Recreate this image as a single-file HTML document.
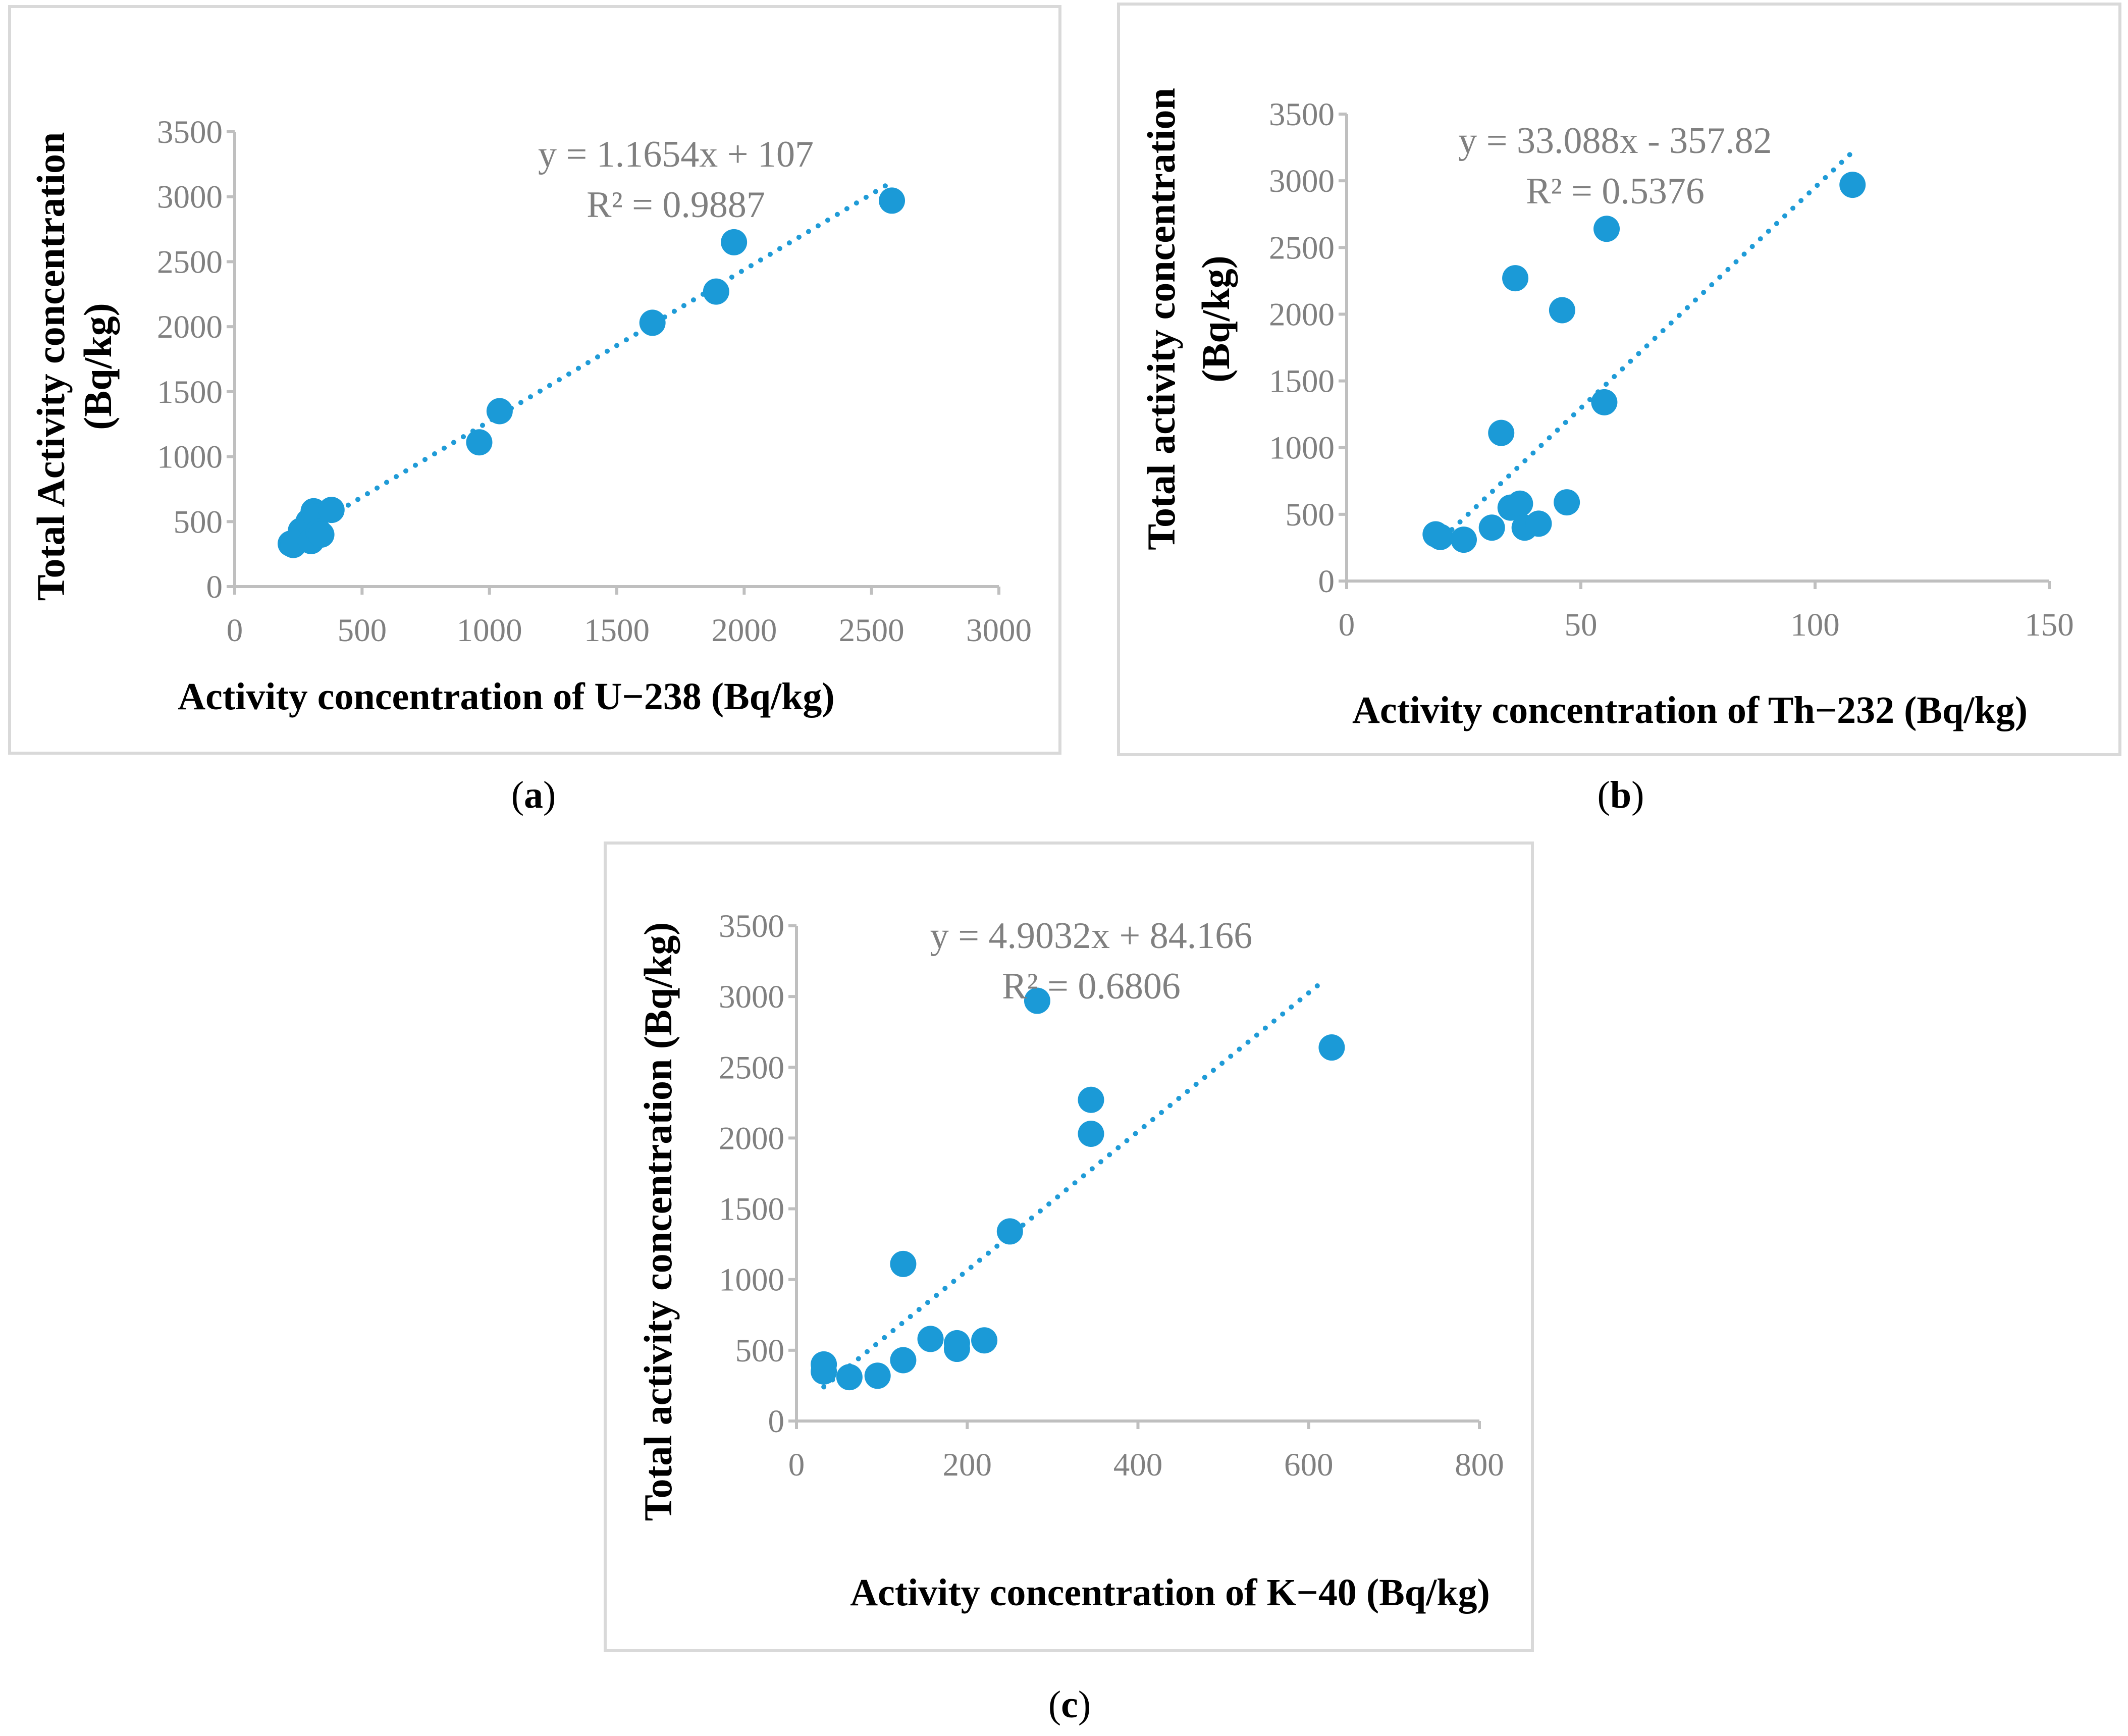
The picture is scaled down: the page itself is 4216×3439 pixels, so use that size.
<!DOCTYPE html>
<html><head><meta charset="utf-8"><style>
html,body{margin:0;padding:0;background:#fff;}
svg{display:block;font-family:"Liberation Serif",serif;}
</style></head><body>
<svg id="fig" width="4216" height="3439" viewBox="0 0 4216 3439" xmlns="http://www.w3.org/2000/svg"></svg>
<script>
// Panel (a) data
const aX = [220,230,260,290,300,310,320,330,340,380,960,1040,1640,1890,1960,2580];
const aY = [330,320,430,500,350,580,540,420,400,590,1110,1350,2030,2270,2650,2970];
const aXTicks = [0,500,1000,1500,2000,2500,3000];
// Panel (b) data
const bX = [19,20,25,31,33,35,36,37,38,41,46,47,55,55.5,108];
const bY = [350,330,310,400,1110,550,2270,580,400,430,2030,590,1340,2640,2970];
const bXTicks = [0,50,100,150];
// Panel (c) data
const cX = [32,32,62,95,125,125,157,188,188,220,250,282,345,345,627];
const cY = [400,350,310,320,430,1110,580,550,510,570,1340,2970,2270,2030,2640];
const cXTicks = [0,200,400,600,800];
const yTicks = [0,500,1000,1500,2000,2500,3000,3500];
const trendA = [1.1654,107], trendB = [33.088,-357.82], trendC = [4.9032,84.166];

const NS="http://www.w3.org/2000/svg";
const svg=document.getElementById('fig');
function mk(tag,attrs,parent){const e=document.createElementNS(NS,tag);for(const k in attrs)e.setAttribute(k,attrs[k]);(parent||svg).appendChild(e);return e;}
function txt(s,x,y,size,fill,weight,parent,rot){const t=mk('text',{x:x,y:y,'font-size':size,fill:fill,'text-anchor':'middle','font-weight':weight||'normal'},parent);if(rot)t.setAttribute('transform','rotate(-90 '+x+' '+y+')');t.textContent=s;return t;}

function panel(o){
  const g=mk('g',{});
  
  
  const fr=mk('rect',{x:o.box[0],y:o.box[1],width:o.box[2]-o.box[0],height:o.box[3]-o.box[1],fill:'none',stroke:'#d9d9d9','stroke-width':6},g);
  
  
  const xmax=o.xt[o.xt.length-1];
  const sx=v=>o.x0+(o.x1-o.x0)*v/xmax;
  const sy=v=>o.y0+(o.y1-o.y0)*v/3500;
  const ya=mk('line',{x1:o.x0,y1:o.y0,x2:o.x0,y2:o.y1,stroke:'#bfbfbf','stroke-width':6},g);
  
  
  const xa=mk('line',{x1:o.x0,y1:o.y0,x2:o.x1,y2:o.y0,stroke:'#bfbfbf','stroke-width':6},g);
  
  
  yTicks.forEach(v=>{
    const y=sy(v);
    mk('line',{x1:o.x0-16,y1:y,x2:o.x0,y2:y,stroke:'#bfbfbf','stroke-width':6},g);
    const t=txt(String(v),o.x0-24,y+22,65,'#808080','normal',g);
    t.setAttribute('text-anchor','end');
    
    
  });
  o.xt.forEach(v=>{
    const x=sx(v);
    mk('line',{x1:x,y1:o.y0,x2:x,y2:o.y0+16,stroke:'#bfbfbf','stroke-width':6},g);
    const t=txt(String(v),x,o.y0+108,65,'#808080','normal',g);
    
    
  });
  const xs=Math.min(...o.xs), xe=o.trendEnd;
  const tl=mk('line',{x1:sx(xs),y1:sy(o.tr[0]*xs+o.tr[1]),x2:sx(xe),y2:sy(o.tr[0]*xe+o.tr[1]),stroke:'#1f9bd7','stroke-width':10,'stroke-linecap':'round','stroke-dasharray':'0.1 22'},g);
  
  
  o.xs.forEach((v,i)=>{
    const c=mk('circle',{cx:sx(v),cy:sy(o.ys[i]),r:26,fill:'#1b9ad7'},g);
    
    
  });
  const e1=txt(o.eq[0],o.eqx,o.eqy,74,'#808080','normal',g);
  
  
  const e2=txt(o.eq[1],o.eqx,o.eqy+100,74,'#808080','normal',g);
  
  
  o.yt.forEach(t=>{
    const el=txt(t[0],t[1],t[2],78,'#000','bold',g,true);
    
    
  });
  const xtl=txt(o.xtitle[0],o.xtitle[1],o.xtitle[2],76,'#000','bold',g);
  
  
  const cap=mk('text',{x:o.cap[1],y:o.cap[2],'font-size':76,fill:'#000','text-anchor':'middle'},g);
  
  
  cap.appendChild(document.createTextNode('('));
  const b=mk('tspan',{'font-weight':'bold'},cap);
  b.textContent=o.cap[0];
  cap.appendChild(document.createTextNode(')'));
}

panel({name:'panel-a',box:[19,13,2100,1492],x0:465,x1:1979,y0:1162,y1:261,xt:aXTicks,xs:aX,ys:aY,tr:trendA,trendEnd:2560,
  eq:['y = 1.1654x + 107','R² = 0.9887'],eqx:1339,eqy:330,
  yt:[['Total Activity concentration',127,726],['(Bq/kg)',220,726]],
  xtitle:['Activity concentration of U−238 (Bq/kg)',1003,1405],cap:['a',1057,1600]});
panel({name:'panel-b',box:[2216,8,4200,1495],x0:2668,x1:4060,y0:1151,y1:226,xt:bXTicks,xs:bX,ys:bY,tr:trendB,trendEnd:108,
  eq:['y = 33.088x - 357.82','R² = 0.5376'],eqx:3200,eqy:303,
  yt:[['Total activity concentration',2327,632],['(Bq/kg)',2435,632]],
  xtitle:['Activity concentration of Th−232 (Bq/kg)',3348,1432],cap:['b',3211,1600]});
panel({name:'panel-c',box:[1199,1670,3036,3270],x0:1578,x1:2931,y0:2815,y1:1834,xt:cXTicks,xs:cX,ys:cY,tr:trendC,trendEnd:620,
  eq:['y = 4.9032x + 84.166','R² = 0.6806'],eqx:2162,eqy:1878,
  yt:[['Total activity concentration (Bq/kg)',1330,2420]],
  xtitle:['Activity concentration of K−40 (Bq/kg)',2318,3180],cap:['c',2119,3402]});
</script>
</body></html>
